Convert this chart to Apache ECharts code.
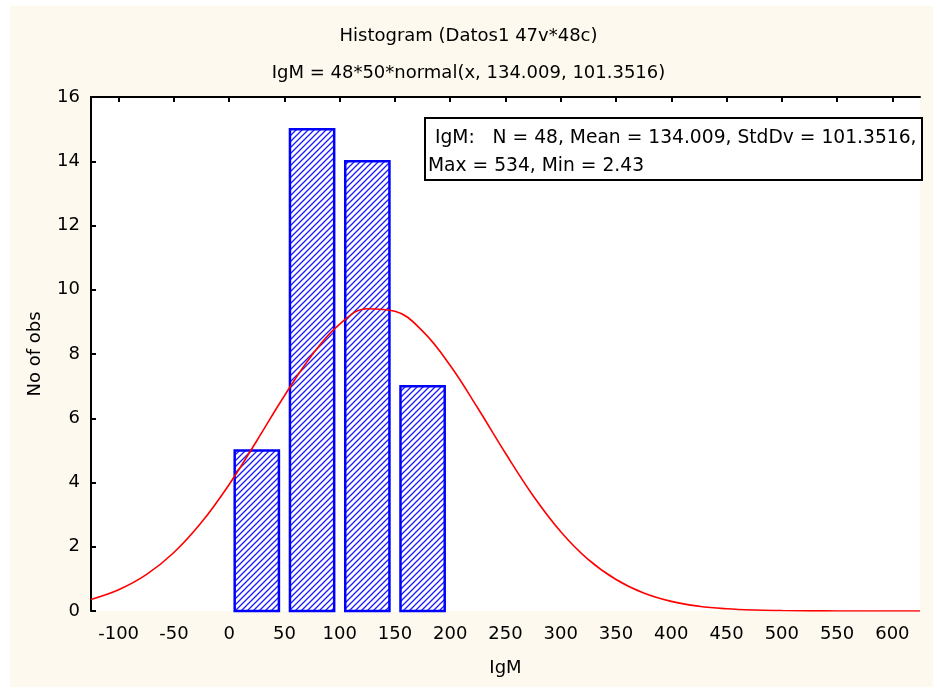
<!DOCTYPE html>
<html>
<head>
<meta charset="utf-8">
<script src="https://cdn.jsdelivr.net/npm/echarts@6/dist/echarts.min.js"></script>
<style>
html,body{margin:0;padding:0;background:#fff;}
#c{width:937px;height:691px;}
</style>
</head>
<body>
<div id="c"></div>
<script>
// ---- data ----
const binStart = [0, 50, 100, 150];
const binEnd = [50, 100, 150, 200];
const counts = [5, 15, 14, 7];
const curveX = [-125,-100,-75,-50,-25,0,25,50,75,100,125,150,175,200,225,250,275,300,325,350,375,400,425,450,475,500,525,550,575,600,625];
const curveY = [0.36,0.66,1.13,1.82,2.76,3.94,5.30,6.70,7.97,8.93,9.41,9.33,8.71,7.64,6.31,4.91,3.59,2.47,1.60,0.98,0.56,0.30,0.15,0.07,0.03,0.014,0.005,0.002,0,0,0];
const xTickLabels = [-100,-50,0,50,100,150,200,250,300,350,400,450,500,550,600];
const yTickLabels = [0,2,4,6,8,10,12,14,16];
const titleText = 'Histogram (Datos1 47v*48c)';
const subTitleText = 'IgM = 48*50*normal(x, 134.009, 101.3516)';
const statsLine1 = 'IgM:   N = 48, Mean = 134.009, StdDv = 101.3516,';
const statsLine2 = 'Max = 534, Min = 2.43';

const FONT = 'DejaVu Sans';
const FS = 18;

// hatch pattern
const tile = document.createElement('canvas');
tile.width = 6; tile.height = 6;
const tc = tile.getContext('2d');
tc.fillStyle = '#ffffff';
tc.fillRect(0, 0, 6, 6);
tc.strokeStyle = '#1a1aff';
tc.lineWidth = 1.3;
tc.beginPath();
tc.moveTo(-1, 7); tc.lineTo(7, -1);
tc.moveTo(-4, 4); tc.lineTo(4, -4);
tc.moveTo(2, 10); tc.lineTo(10, 2);
tc.stroke();
const hatch = { image: tile, repeat: 'repeat' };

const barData = binStart.map((s, i) => [s, binEnd[i], counts[i]]);
const lineData = curveX.map((x, i) => [x, curveY[i]]);

const chart = echarts.init(document.getElementById('c'));
const axisText = { color: '#000', fontFamily: FONT, fontSize: FS };
chart.setOption({
  animation: false,
  backgroundColor: '#ffffff',
  textStyle: { fontFamily: FONT },
  graphic: [
    { type: 'rect', z: -10, silent: true, shape: { x: 10, y: 6, width: 923, height: 681 }, style: { fill: '#fdf9ee' } },
    { type: 'rect', z: 100, shape: { x: 425, y: 118, width: 497, height: 62 }, style: { fill: '#ffffff', stroke: '#000', lineWidth: 2 } },
    { type: 'text', z: 101, x: 435, y: 138, style: { text: statsLine1, fill: '#000', font: '18.7px "' + FONT + '"', verticalAlign: 'middle' } },
    { type: 'text', z: 101, x: 428, y: 166, style: { text: statsLine2, fill: '#000', font: '18.7px "' + FONT + '"', verticalAlign: 'middle' } }
  ],
  title: [
    { text: titleText, left: 'center', top: 22, textStyle: { fontFamily: FONT, fontSize: FS, fontWeight: 'normal', color: '#000' } },
    { text: subTitleText, left: 'center', top: 59, textStyle: { fontFamily: FONT, fontSize: FS, fontWeight: 'normal', color: '#000' } }
  ],
  grid: { left: 91, right: 17, top: 97, bottom: 80, show: true, backgroundColor: '#ffffff', borderWidth: 0 },
  xAxis: [
    {
      type: 'value', position: 'bottom', min: -125, max: 625,
      name: 'IgM', nameLocation: 'middle', nameGap: 48,
      nameTextStyle: axisText,
      axisLine: { show: false }, axisTick: { show: false },
      splitLine: { show: false },
      axisLabel: Object.assign({ customValues: xTickLabels, margin: 14 }, axisText)
    },
    {
      type: 'value', position: 'top', min: -125, max: 625,
      axisLine: { show: true, onZero: false, lineStyle: { color: '#000', width: 2 } },
      axisTick: { show: true, inside: true, length: 5, customValues: xTickLabels, lineStyle: { color: '#000', width: 2 } },
      axisLabel: { show: false },
      splitLine: { show: false }
    }
  ],
  yAxis: {
    type: 'value', min: 0, max: 16, interval: 2,
    name: 'No of obs', nameLocation: 'middle', nameGap: 47,
    nameTextStyle: axisText,
    axisLine: { show: true, onZero: false, lineStyle: { color: '#000', width: 2 } },
    axisTick: { show: true, inside: true, length: 5, lineStyle: { color: '#000', width: 2 } },
    splitLine: { show: false },
    axisLabel: Object.assign({ margin: 11 }, axisText)
  },
  series: [
    {
      type: 'custom', xAxisIndex: 0, data: barData, z: 2,
      renderItem: function (params, api) {
        const inset = 5;
        const p0 = api.coord([api.value(0) + inset, api.value(2)]);
        const p1 = api.coord([api.value(1) - inset, 0]);
        return {
          type: 'rect',
          shape: { x: p0[0], y: p0[1], width: p1[0] - p0[0], height: p1[1] - p0[1] },
          style: { fill: hatch, stroke: '#0000ff', lineWidth: 2.5 }
        };
      }
    },
    {
      type: 'line', xAxisIndex: 0, data: lineData, z: 3,
      showSymbol: false, smooth: 0.4,
      lineStyle: { color: '#ff0000', width: 1.6 }
    }
  ]
});
</script>
</body>
</html>
